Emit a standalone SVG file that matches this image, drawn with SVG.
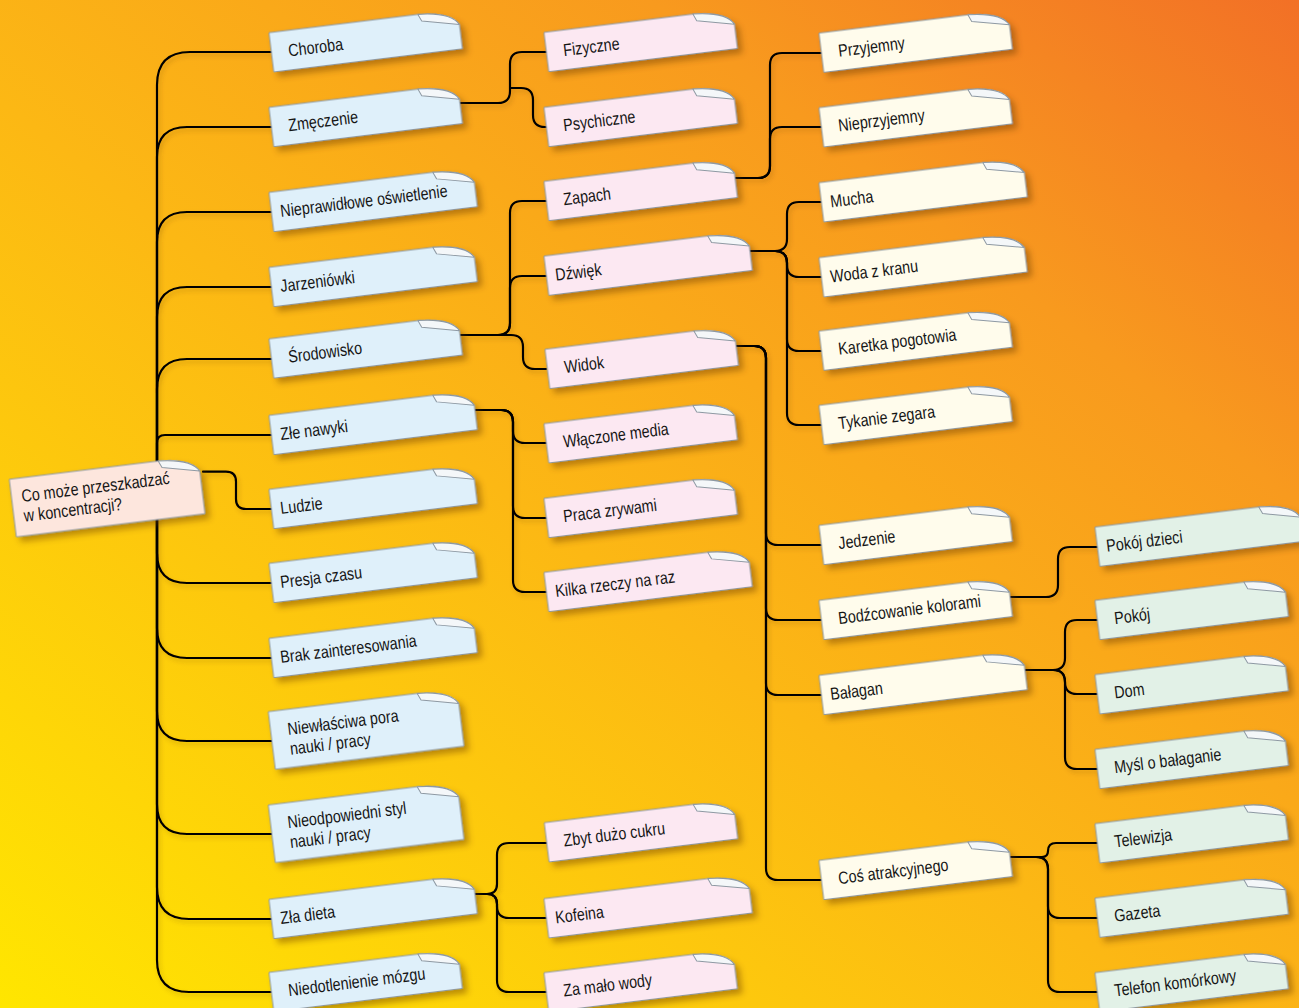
<svg xmlns="http://www.w3.org/2000/svg" width="1299" height="1008" viewBox="0 0 1299 1008">
<defs>
<linearGradient id="bg" x1="0" y1="1" x2="1" y2="0">
<stop offset="0" stop-color="#ffe600"/>
<stop offset="0.45" stop-color="#fcb814"/>
<stop offset="0.75" stop-color="#f89a1e"/>
<stop offset="1" stop-color="#f27026"/>
</linearGradient>
<filter id="sh" x="-10%" y="-30%" width="130%" height="180%">
<feDropShadow dx="4" dy="5" stdDeviation="3" flood-color="#6a3a00" flood-opacity="0.45"/>
</filter>
<filter id="lsh" x="-5%" y="-5%" width="110%" height="110%">
<feDropShadow dx="2" dy="3" stdDeviation="2" flood-color="#6a3a00" flood-opacity="0.25"/>
</filter>
<path id="b190" d="M0,0 L150,0 C168,1 184,4 190,15 L190,39.5 L0,39.5 Z"/>
<path id="f190" d="M150,0 L153,7 L190,15 C184,4 168,1 150,0 Z"/>
<path id="b205" d="M0,0 L165,0 C183,1 199,4 205,15 L205,39.5 L0,39.5 Z"/>
<path id="f205" d="M165,0 L168,7 L205,15 C199,4 183,1 165,0 Z"/>
<path id="b190t" d="M0,0 L150,0 C168,1 184,4 190,15 L190,58 L0,58 Z"/>
<style>
.sh{filter:url(#sh);stroke:#8e99a3;stroke-width:1}
.fl{fill:#f4f7f9;stroke:#8e99a3;stroke-width:1;stroke-linejoin:round}
.c0{fill:#fde6dd}
.c1{fill:#dff0fa}
.c2{fill:#fce8f2}
.c3{fill:#fffcec}
.c4{fill:#e2f1e7}
.t{font-family:"Liberation Sans",Arial,sans-serif;font-size:17.5px;fill:#151515;transform:scale(0.82,1)}
.ln{fill:none;stroke:#000;stroke-width:2.2;stroke-linecap:round}
</style>
</defs>
<rect x="0" y="0" width="1299" height="1008" fill="url(#bg)"/>

<g id="connectors" filter="url(#lsh)">
<path class="ln" d="M157,472 V85 Q157,52 190,52 H272"/>
<path class="ln" d="M157,472 V157 Q157,127 187,127 H272"/>
<path class="ln" d="M157,472 V242 Q157,212 187,212 H272"/>
<path class="ln" d="M157,472 V317 Q157,287 187,287 H272"/>
<path class="ln" d="M157,472 V389 Q157,359 187,359 H272"/>
<path class="ln" d="M157,472 V443 Q157,435 165,435 H272"/>
<path class="ln" d="M157,472 V553 Q157,583 187,583 H272"/>
<path class="ln" d="M157,472 V628 Q157,658 187,658 H272"/>
<path class="ln" d="M157,472 V711 Q157,741 187,741 H272"/>
<path class="ln" d="M157,472 V804 Q157,834 187,834 H272"/>
<path class="ln" d="M157,472 V887 Q157,919 189,919 H272"/>
<path class="ln" d="M157,472 V960 Q157,992 189,992 H272"/>
<path class="ln" d="M203,471.7 H226 Q236,471.7 236,481.7 V499 Q236,509 246,509 H272"/>
<path class="ln" d="M460,103 H498 Q510,103 510,91 V64 Q510,52 522,52 H546"/>
<path class="ln" d="M510,88 H521 Q533,88 533,100 V115 Q533,127 545,127 H546"/>
<path class="ln" d="M460,335 H498 Q510,335 510,323 V213 Q510,201 522,201 H546"/>
<path class="ln" d="M460,335 H498 Q510,335 510,323 V288 Q510,276 522,276 H546"/>
<path class="ln" d="M460,335 H511 Q523,335 523,347 V357 Q523,369 535,369 H546"/>
<path class="ln" d="M475,410 H501 Q513,410 513,422 V431 Q513,443 525,443 H546"/>
<path class="ln" d="M475,410 H501 Q513,410 513,422 V506 Q513,518 525,518 H546"/>
<path class="ln" d="M475,410 H501 Q513,410 513,422 V580 Q513,592 525,592 H546"/>
<path class="ln" d="M475,894 H487 Q497,894 497,884 V855 Q497,843 509,843 H546"/>
<path class="ln" d="M475,894 H487 Q497,894 497,904 V906 Q497,918 509,918 H546"/>
<path class="ln" d="M475,894 H487 Q497,894 497,904 V980 Q497,992 509,992 H546"/>
<path class="ln" d="M735,178 H758 Q770,178 770,166 V65 Q770,53 782,53 H821"/>
<path class="ln" d="M735,178 H758 Q770,178 770,166 V139 Q770,127 782,127 H821"/>
<path class="ln" d="M750,251 H775 Q787,251 787,239 V214 Q787,202 799,202 H821"/>
<path class="ln" d="M750,251 H775 Q787,251 787,263 V265 Q787,277 799,277 H821"/>
<path class="ln" d="M750,251 H775 Q787,251 787,263 V339 Q787,351 799,351 H821"/>
<path class="ln" d="M750,251 H775 Q787,251 787,263 V413 Q787,425 799,425 H821"/>
<path class="ln" d="M735,346 H754 Q766,346 766,358 V533 Q766,545 778,545 H821"/>
<path class="ln" d="M735,346 H754 Q766,346 766,358 V608 Q766,620 778,620 H821"/>
<path class="ln" d="M735,346 H754 Q766,346 766,358 V683 Q766,695 778,695 H821"/>
<path class="ln" d="M735,346 H754 Q766,346 766,358 V868 Q766,880 778,880 H821"/>
<path class="ln" d="M1010,597 H1046 Q1058,597 1058,585 V559 Q1058,547 1070,547 H1097"/>
<path class="ln" d="M1025,670 H1053 Q1065,670 1065,658 V632 Q1065,620 1077,620 H1097"/>
<path class="ln" d="M1025,670 H1053 Q1065,670 1065,682 Q1065,694 1077,694 H1097"/>
<path class="ln" d="M1025,670 H1053 Q1065,670 1065,682 V757 Q1065,769 1077,769 H1097"/>
<path class="ln" d="M1010,857 H1042 Q1048,857 1048,851 Q1048,843 1056,843 H1097"/>
<path class="ln" d="M1010,857 H1036 Q1048,857 1048,869 V906 Q1048,918 1060,918 H1097"/>
<path class="ln" d="M1010,857 H1036 Q1048,857 1048,869 V980 Q1048,992 1060,992 H1097"/>
</g>

<g id="n-root" transform="translate(9.3,479.3) rotate(-7)"><use href="#b190t" class="c0 sh"/><use href="#f190" class="fl"/><text class="t" x="12.2" y="24">Co może przeszkadzać</text><text class="t" x="12.2" y="44">w koncentracji?</text></g>

<g id="n-choroba" transform="translate(269,32.7) rotate(-7)"><use href="#b190" class="c1 sh"/><use href="#f190" class="fl"/><text class="t" x="20.7" y="26">Choroba</text></g>
<g id="n-zmeczenie" transform="translate(269,107.4) rotate(-7)"><use href="#b190" class="c1 sh"/><use href="#f190" class="fl"/><text class="t" x="20.7" y="26">Zmęczenie</text></g>
<g id="n-oswietlenie" transform="translate(269,192.4) rotate(-7)"><use href="#b205" class="c1 sh"/><use href="#f205" class="fl"/><text class="t" x="11" y="26">Nieprawidłowe oświetlenie</text></g>
<g id="n-jarzeniowki" transform="translate(269,267.4) rotate(-7)"><use href="#b205" class="c1 sh"/><use href="#f205" class="fl"/><text class="t" x="11" y="26">Jarzeniówki</text></g>
<g id="n-srodowisko" transform="translate(269,338.9) rotate(-7)"><use href="#b190" class="c1 sh"/><use href="#f190" class="fl"/><text class="t" x="20.7" y="26">Środowisko</text></g>
<g id="n-zle-nawyki" transform="translate(269,415.4) rotate(-7)"><use href="#b205" class="c1 sh"/><use href="#f205" class="fl"/><text class="t" x="11" y="26">Złe nawyki</text></g>
<g id="n-ludzie" transform="translate(269,489.4) rotate(-7)"><use href="#b205" class="c1 sh"/><use href="#f205" class="fl"/><text class="t" x="11" y="26">Ludzie</text></g>
<g id="n-presja" transform="translate(269,563.4) rotate(-7)"><use href="#b205" class="c1 sh"/><use href="#f205" class="fl"/><text class="t" x="11" y="26">Presja czasu</text></g>
<g id="n-brak" transform="translate(269,638.4) rotate(-7)"><use href="#b205" class="c1 sh"/><use href="#f205" class="fl"/><text class="t" x="11" y="26">Brak zainteresowania</text></g>
<g id="n-pora" transform="translate(268.3,711.7) rotate(-7)"><use href="#b190t" class="c1 sh"/><use href="#f190" class="fl"/><text class="t" x="20.7" y="25.5">Niewłaściwa pora</text><text class="t" x="20.7" y="45.5">nauki / pracy</text></g>
<g id="n-styl" transform="translate(268.3,805) rotate(-7)"><use href="#b190t" class="c1 sh"/><use href="#f190" class="fl"/><text class="t" x="20.7" y="25.5">Nieodpowiedni styl</text><text class="t" x="20.7" y="45.5">nauki / pracy</text></g>
<g id="n-dieta" transform="translate(269,899.4) rotate(-7)"><use href="#b205" class="c1 sh"/><use href="#f205" class="fl"/><text class="t" x="11" y="26">Zła dieta</text></g>
<g id="n-niedotlenienie" transform="translate(269,972.4) rotate(-7)"><use href="#b190" class="c1 sh"/><use href="#f190" class="fl"/><text class="t" x="20.7" y="26">Niedotlenienie mózgu</text></g>

<g id="n-fizyczne" transform="translate(544,32.4) rotate(-7)"><use href="#b190" class="c2 sh"/><use href="#f190" class="fl"/><text class="t" x="20.7" y="26">Fizyczne</text></g>
<g id="n-psychiczne" transform="translate(544,107.4) rotate(-7)"><use href="#b190" class="c2 sh"/><use href="#f190" class="fl"/><text class="t" x="20.7" y="26">Psychiczne</text></g>
<g id="n-zapach" transform="translate(544,181.4) rotate(-7)"><use href="#b190" class="c2 sh"/><use href="#f190" class="fl"/><text class="t" x="20.7" y="26">Zapach</text></g>
<g id="n-dzwiek" transform="translate(544,256.1) rotate(-7)"><use href="#b205" class="c2 sh"/><use href="#f205" class="fl"/><text class="t" x="11" y="26">Dźwięk</text></g>
<g id="n-widok" transform="translate(545,349.3) rotate(-7)"><use href="#b190" class="c2 sh"/><use href="#f190" class="fl"/><text class="t" x="20.7" y="26">Widok</text></g>
<g id="n-media" transform="translate(544,423.7) rotate(-7)"><use href="#b190" class="c2 sh"/><use href="#f190" class="fl"/><text class="t" x="20.7" y="26">Włączone media</text></g>
<g id="n-zrywami" transform="translate(544,498.4) rotate(-7)"><use href="#b190" class="c2 sh"/><use href="#f190" class="fl"/><text class="t" x="20.7" y="26">Praca zrywami</text></g>
<g id="n-kilka" transform="translate(544,572.4) rotate(-7)"><use href="#b205" class="c2 sh"/><use href="#f205" class="fl"/><text class="t" x="11" y="26">Kilka rzeczy na raz</text></g>
<g id="n-cukru" transform="translate(544.3,822.7) rotate(-7)"><use href="#b190" class="c2 sh"/><use href="#f190" class="fl"/><text class="t" x="20.7" y="26">Zbyt dużo cukru</text></g>
<g id="n-kofeina" transform="translate(544,898.7) rotate(-7)"><use href="#b205" class="c2 sh"/><use href="#f205" class="fl"/><text class="t" x="11" y="26">Kofeina</text></g>
<g id="n-wody" transform="translate(544,972.7) rotate(-7)"><use href="#b190" class="c2 sh"/><use href="#f190" class="fl"/><text class="t" x="20.7" y="26">Za mało wody</text></g>

<g id="n-przyjemny" transform="translate(819,33.1) rotate(-7)"><use href="#b190" class="c3 sh"/><use href="#f190" class="fl"/><text class="t" x="20.7" y="26">Przyjemny</text></g>
<g id="n-nieprzyjemny" transform="translate(819,107.7) rotate(-7)"><use href="#b190" class="c3 sh"/><use href="#f190" class="fl"/><text class="t" x="20.7" y="26">Nieprzyjemny</text></g>
<g id="n-mucha" transform="translate(819,182.7) rotate(-7)"><use href="#b205" class="c3 sh"/><use href="#f205" class="fl"/><text class="t" x="11" y="26">Mucha</text></g>
<g id="n-woda" transform="translate(819,257.7) rotate(-7)"><use href="#b205" class="c3 sh"/><use href="#f205" class="fl"/><text class="t" x="11" y="26">Woda z kranu</text></g>
<g id="n-karetka" transform="translate(819,331.1) rotate(-7)"><use href="#b190" class="c3 sh"/><use href="#f190" class="fl"/><text class="t" x="20.7" y="26">Karetka pogotowia</text></g>
<g id="n-zegar" transform="translate(819,405.4) rotate(-7)"><use href="#b190" class="c3 sh"/><use href="#f190" class="fl"/><text class="t" x="20.7" y="26">Tykanie zegara</text></g>
<g id="n-jedzenie" transform="translate(819,525.4) rotate(-7)"><use href="#b190" class="c3 sh"/><use href="#f190" class="fl"/><text class="t" x="20.7" y="26">Jedzenie</text></g>
<g id="n-kolory" transform="translate(819,600.4) rotate(-7)"><use href="#b190" class="c3 sh"/><use href="#f190" class="fl"/><text class="t" x="20.7" y="26">Bodźcowanie kolorami</text></g>
<g id="n-balagan" transform="translate(819,675.4) rotate(-7)"><use href="#b205" class="c3 sh"/><use href="#f205" class="fl"/><text class="t" x="11" y="26">Bałagan</text></g>
<g id="n-atrakcyjne" transform="translate(819,860.4) rotate(-7)"><use href="#b190" class="c3 sh"/><use href="#f190" class="fl"/><text class="t" x="20.7" y="26">Coś atrakcyjnego</text></g>

<g id="n-pokoj-dzieci" transform="translate(1095,527.1) rotate(-7)"><use href="#b205" class="c4 sh"/><use href="#f205" class="fl"/><text class="t" x="11" y="26">Pokój dzieci</text></g>
<g id="n-pokoj" transform="translate(1095,600.4) rotate(-7)"><use href="#b190" class="c4 sh"/><use href="#f190" class="fl"/><text class="t" x="20.7" y="26">Pokój</text></g>
<g id="n-dom" transform="translate(1095,674.7) rotate(-7)"><use href="#b190" class="c4 sh"/><use href="#f190" class="fl"/><text class="t" x="20.7" y="26">Dom</text></g>
<g id="n-mysl" transform="translate(1095,749.4) rotate(-7)"><use href="#b190" class="c4 sh"/><use href="#f190" class="fl"/><text class="t" x="20.7" y="26">Myśl o bałaganie</text></g>
<g id="n-telewizja" transform="translate(1095,823.7) rotate(-7)"><use href="#b190" class="c4 sh"/><use href="#f190" class="fl"/><text class="t" x="20.7" y="26">Telewizja</text></g>
<g id="n-gazeta" transform="translate(1095,898.1) rotate(-7)"><use href="#b190" class="c4 sh"/><use href="#f190" class="fl"/><text class="t" x="20.7" y="26">Gazeta</text></g>
<g id="n-telefon" transform="translate(1095,972.7) rotate(-7)"><use href="#b190" class="c4 sh"/><use href="#f190" class="fl"/><text class="t" x="20.7" y="26">Telefon komórkowy</text></g>
</svg>
